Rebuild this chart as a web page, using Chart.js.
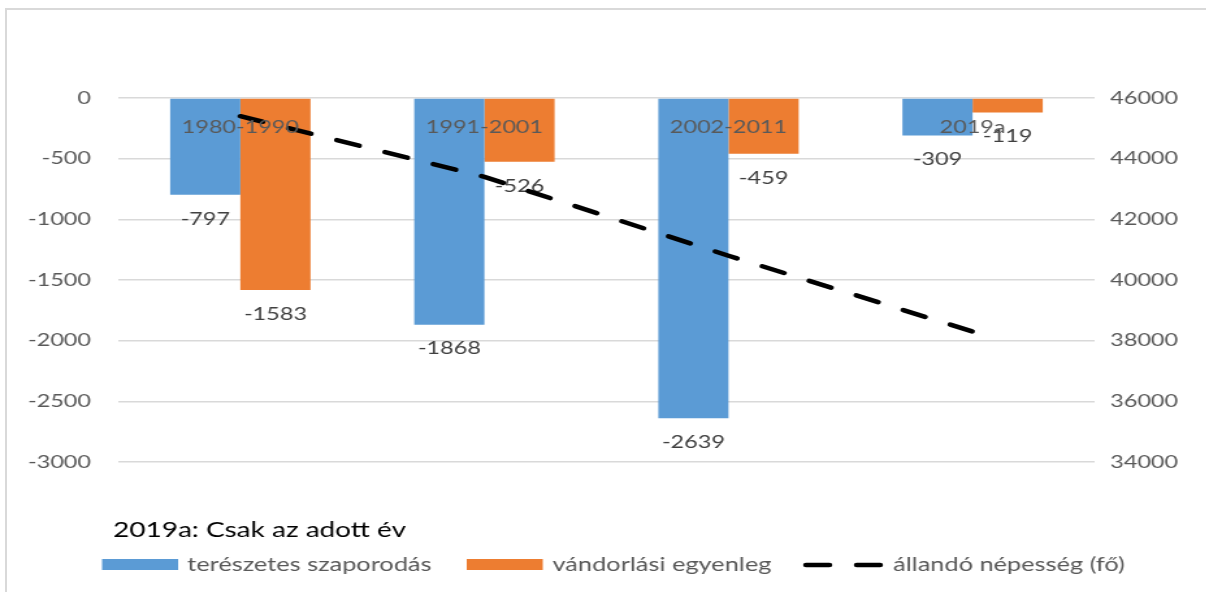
<!DOCTYPE html>
<html>
<head>
<meta charset="utf-8">
<script src="https://cdn.jsdelivr.net/npm/chart.js@4.4.1/dist/chart.umd.min.js"></script>
<style>
  html, body { margin: 0; padding: 0; background: #fff; overflow: hidden; }
  #frame { position: absolute; left: 5px; top: 8px; width: 1300px; height: 700px;
           border-left: 2px solid #d9d9d9; border-top: 2px solid #d9d9d9; }
  /* the original chart is stretched sideways, so draw narrow and stretch it */
  #wrap { position: absolute; left: 0; top: 0; width: 928px; height: 592px;
          transform: scaleX(1.3); transform-origin: 0 0; }
</style>
</head>
<body>
<div id="frame"></div>
<div id="wrap"><canvas id="chart"></canvas></div>
<script>
const categories = ['1980-1990', '1991-2001', '2002-2011', '2019a'];
const termeszetes = [-797, -1868, -2639, -309];
const vandorlasi = [-1583, -526, -459, -119];
const nepesseg = [45400, 43400, 40800, 38300];
const seriesNames = ['terészetes szaporodás', 'vándorlási egyenleg', 'állandó népesség (fő)'];
const leftRange = [-3000, 0, 500];
const rightRange = [34000, 46000, 2000];
const note = '2019a: Csak az adott év';

const FONT = 'Lato, "Open Sans", sans-serif';

// value labels under the bar ends, drawn just before the dashed line
const barLabels = {
	id: 'barLabels',
	beforeDatasetDraw(chart, args) {
		if (args.index !== 2) return;
		const ctx = chart.ctx;
		ctx.save();
		ctx.font = '18px ' + FONT;
		ctx.fillStyle = '#404040';
		ctx.textAlign = 'center';
		ctx.textBaseline = 'middle';
		[0, 1].forEach(i => {
			chart.getDatasetMeta(i).data.forEach((bar, j) => {
				ctx.fillText(String(chart.data.datasets[i].data[j]), bar.x, bar.y + 24);
			});
		});
		ctx.restore();
	}
};

// note line and legend at the bottom
const bottomLegend = {
	id: 'bottomLegend',
	afterDraw(chart) {
		const ctx = chart.ctx;
		const ds = chart.data.datasets;
		ctx.save();
		ctx.textAlign = 'left';
		ctx.textBaseline = 'middle';
		ctx.font = '21.5px ' + FONT;
		ctx.fillStyle = '#000';
		ctx.fillText(note, 87, 530);

		const y = 565;
		ctx.fillStyle = ds[0].backgroundColor;
		ctx.fillRect(78.5, y - 6, 58.5, 11);
		ctx.fillStyle = ds[1].backgroundColor;
		ctx.fillRect(359, y - 6, 58.5, 11);

		ctx.strokeStyle = ds[2].borderColor;
		ctx.lineWidth = ds[2].borderWidth;
		ctx.lineCap = 'round';
		ctx.setLineDash(ds[2].borderDash);
		ctx.beginPath();
		ctx.moveTo(620, y);
		ctx.lineTo(677, y);
		ctx.stroke();
		ctx.setLineDash([]);

		ctx.font = '19.5px ' + FONT;
		ctx.fillStyle = '#595959';
		ctx.fillText(ds[0].label, 144, y);
		ctx.fillText(ds[1].label, 425, y);
		ctx.fillText(ds[2].label, 687, y);
		ctx.restore();
	}
};

const ctx = document.querySelector('#chart').getContext('2d');
const chart = new Chart(ctx, {
	type: 'bar',
	data: {
		labels: categories,
		datasets: [{
			label: seriesNames[0],
			data: termeszetes,
			backgroundColor: '#5B9BD5',
			yAxisID: 'y',
			order: 1
		}, {
			label: seriesNames[1],
			data: vandorlasi,
			backgroundColor: '#ED7D31',
			yAxisID: 'y',
			order: 1
		}, {
			type: 'line',
			label: seriesNames[2],
			data: nepesseg,
			borderColor: '#000',
			borderWidth: 4.5,
			borderDash: [18, 21],
			borderCapStyle: 'round',
			pointRadius: 0,
			fill: false,
			tension: 0,
			yAxisID: 'y1',
			order: 0
		}]
	},
	options: {
		responsive: true,
		maintainAspectRatio: false,
		animation: false,
		layout: { padding: { top: 98, bottom: 130, left: 0, right: 0 } },
		datasets: {
			bar: { categoryPercentage: 0.575, barPercentage: 1 }
		},
		scales: {
			x: {
				position: { y: 0 },
				grid: { display: false, drawTicks: false },
				border: { display: false },
				ticks: {
					z: 1,
					padding: 18,
					color: '#595959',
					font: { family: FONT, size: 18 },
					maxRotation: 0
				}
			},
			y: {
				position: 'left',
				min: leftRange[0],
				max: leftRange[1],
				ticks: {
					stepSize: leftRange[2],
					padding: 21,
					color: '#595959',
					font: { family: FONT, size: 18 },
					callback: v => String(v)
				},
				grid: { color: '#d9d9d9', lineWidth: 1.5, drawTicks: false },
				border: { display: false },
				afterFit(scale) { scale.width = 91; }
			},
			y1: {
				position: 'right',
				min: rightRange[0],
				max: rightRange[1],
				ticks: {
					stepSize: rightRange[2],
					padding: 12,
					color: '#595959',
					font: { family: FONT, size: 18 },
					callback: v => String(v)
				},
				grid: { display: false, drawTicks: false },
				border: { display: false },
				afterFit(scale) { scale.width = 86; }
			}
		},
		plugins: {
			legend: { display: false },
			tooltip: { enabled: false }
		}
	},
	plugins: [barLabels, bottomLegend]
});
</script>
</body>
</html>
